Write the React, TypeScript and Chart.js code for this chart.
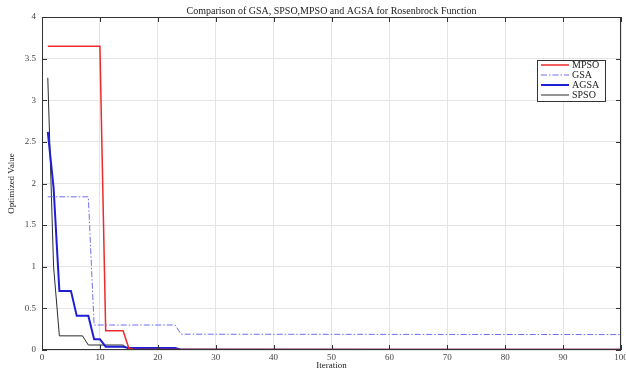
import React, { useEffect, useRef } from "react";
import { Chart, registerables } from "chart.js";
Chart.register(...registerables);

const TITLE = "Comparison of GSA, SPSO,MPSO and AGSA for Rosenbrock Function";
const X_LABEL = "Iteration";
const Y_LABEL = "Optimized Value";
const SERIES_NAMES = ["MPSO", "GSA", "AGSA", "SPSO"];

const MPSO_X = [1, 10, 11, 14, 15, 16, 100];
const MPSO_Y = [3.65, 3.65, 0.23, 0.23, 0.02, 0.006, 0.006];
const GSA_X = [1, 8, 9, 23, 24, 100];
const GSA_Y = [1.84, 1.84, 0.3, 0.3, 0.19, 0.185];
const AGSA_X = [1, 2, 3, 5, 6, 8, 9, 10, 11, 14, 15, 23, 24, 100];
const AGSA_Y = [2.62, 1.95, 0.71, 0.71, 0.41, 0.41, 0.13, 0.13, 0.04, 0.04, 0.025, 0.025, 0.004, 0.004];
const SPSO_X = [1, 2, 3, 7, 8, 14, 15, 100];
const SPSO_Y = [3.27, 1.0, 0.17, 0.17, 0.06, 0.06, 0.01, 0.003];

const X_TICKS = [0, 10, 20, 30, 40, 50, 60, 70, 80, 90, 100];
const Y_TICKS = [0, 0.5, 1, 1.5, 2, 2.5, 3, 3.5, 4];

const COLORS = ["#ee2a2a", "#6f6ff2", "#1f1fd6", "#2a2a2a"];
const WIDTHS = [1.5, 1, 2, 1];
const DASHES: number[][] = [[], [6, 2, 1.5, 2], [], []];
const FONT = "'Liberation Serif', 'DejaVu Serif', serif";

function pts(xs: number[], ys: number[]) {
  return xs.map((x, i) => ({ x, y: ys[i] }));
}

const framePlugin = {
  id: "frame",
  afterDraw(chart: any) {
    const { ctx, chartArea: a, scales } = chart;
    ctx.save();
    ctx.strokeStyle = "#333";
    ctx.lineWidth = 1;
    ctx.setLineDash([]);
    ctx.strokeRect(a.left + 0.5, a.top + 0.5, a.right - a.left - 1, a.bottom - a.top - 1);
    const tl = 5;
    ctx.beginPath();
    X_TICKS.forEach((v) => {
      const px = Math.round(scales.x.getPixelForValue(v)) + 0.5;
      ctx.moveTo(px, a.bottom);
      ctx.lineTo(px, a.bottom - tl);
      ctx.moveTo(px, a.top);
      ctx.lineTo(px, a.top + tl);
    });
    Y_TICKS.forEach((v) => {
      const py = Math.round(scales.y.getPixelForValue(v)) + 0.5;
      ctx.moveTo(a.left, py);
      ctx.lineTo(a.left + tl, py);
      ctx.moveTo(a.right, py);
      ctx.lineTo(a.right - tl, py);
    });
    ctx.stroke();
    ctx.fillStyle = "#222";
    ctx.font = `10px ${FONT}`;
    ctx.textAlign = "center";
    ctx.textBaseline = "middle";
    ctx.fillText(TITLE, (a.left + a.right) / 2, 11);
    const lx = a.right - 84;
    const ly = a.top + 43;
    const lw = 68;
    const lh = 41;
    ctx.fillStyle = "#fff";
    ctx.fillRect(lx, ly, lw, lh);
    ctx.strokeStyle = "#333";
    ctx.strokeRect(lx + 0.5, ly + 0.5, lw, lh);
    SERIES_NAMES.forEach((name, i) => {
      const yy = ly + 5 + i * 10;
      ctx.beginPath();
      ctx.strokeStyle = COLORS[i];
      ctx.lineWidth = WIDTHS[i];
      ctx.setLineDash(DASHES[i]);
      ctx.moveTo(lx + 4, yy);
      ctx.lineTo(lx + 32, yy);
      ctx.stroke();
      ctx.setLineDash([]);
      ctx.fillStyle = "#222";
      ctx.textAlign = "left";
      ctx.fillText(name, lx + 35, yy + 0.5);
    });
    ctx.restore();
  },
};

export default function App() {
  const ref = useRef<HTMLCanvasElement>(null);
  useEffect(() => {
    if (!ref.current) return;
    const data = [pts(MPSO_X, MPSO_Y), pts(GSA_X, GSA_Y), pts(AGSA_X, AGSA_Y), pts(SPSO_X, SPSO_Y)];
    const chart = new Chart(ref.current, {
      type: "line",
      data: {
        datasets: SERIES_NAMES.map((name, i) => ({
          label: name,
          data: data[i],
          borderColor: COLORS[i],
          borderWidth: WIDTHS[i],
          borderDash: DASHES[i],
          pointRadius: 0,
          tension: 0,
          fill: false,
          order: i,
        })),
      },
      options: {
        animation: false,
        responsive: false,
        layout: { padding: { top: 17, right: 5, left: 0, bottom: 0 } },
        plugins: { legend: { display: false }, title: { display: false }, tooltip: { enabled: false } },
        scales: {
          x: {
            type: "linear",
            min: 0,
            max: 100,
            ticks: { stepSize: 10, font: { family: FONT, size: 9 }, color: "#444", padding: 2, maxRotation: 0, callback: (v: any) => String(Number(v)) },
            grid: { color: "#e4e4e4", drawTicks: false },
            border: { display: false },
            title: { display: true, text: X_LABEL, font: { family: FONT, size: 9 }, color: "#222", padding: { top: 0, bottom: 0 } },
            afterFit: (s: any) => {
              s.height = 21;
              s.paddingLeft = 0;
              s.paddingRight = 0;
            },
          },
          y: {
            type: "linear",
            min: 0,
            max: 4,
            ticks: { stepSize: 0.5, font: { family: FONT, size: 9 }, color: "#444", padding: 6, callback: (v: any) => String(Number(v)) },
            grid: { color: "#e4e4e4", drawTicks: false },
            border: { display: false },
            title: { display: true, text: Y_LABEL, font: { family: FONT, size: 9 }, color: "#222", padding: { top: 6, bottom: 0 } },
            afterFit: (s: any) => {
              s.width = 42;
              s.paddingTop = 0;
              s.paddingBottom = 0;
            },
          },
        },
      },
      plugins: [framePlugin],
    });
    return () => chart.destroy();
  }, []);
  return (
    <div style={{ position: "fixed", left: 0, top: 0, width: 626, height: 371, background: "#fff" }}>
      <canvas ref={ref} width={626} height={371} />
    </div>
  );
}
